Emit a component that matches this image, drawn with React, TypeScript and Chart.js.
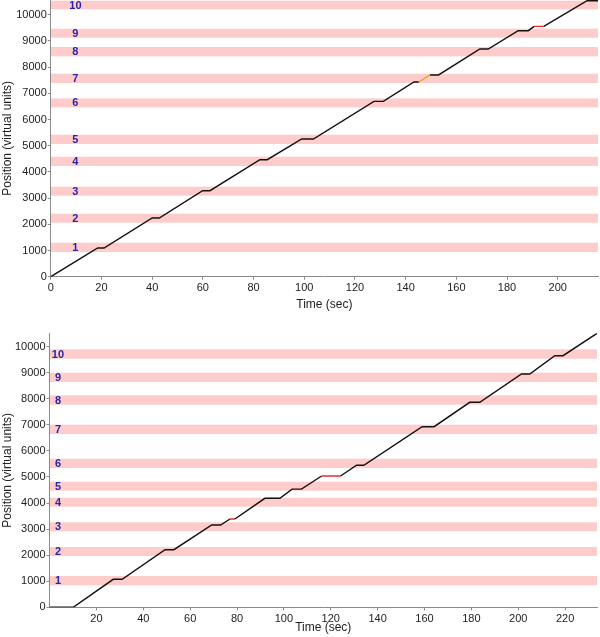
import { useEffect, useRef } from 'react';
import { Chart, registerables } from 'chart.js';

Chart.register(...registerables);

// ---------- data ----------
const bandLabels = ['1', '2', '3', '4', '5', '6', '7', '8', '9', '10'];
const positionTicks = [0, 1000, 2000, 3000, 4000, 5000, 6000, 7000, 8000, 9000, 10000];
const topTimeTicks = [0, 20, 40, 60, 80, 100, 120, 140, 160, 180, 200];
const bottomTimeTicks = [20, 40, 60, 80, 100, 120, 140, 160, 180, 200, 220];

// top panel
const topTime = [0, 18.5, 21.0, 40.0, 42.8, 59.9, 62.8, 82.5, 85.4, 99.0, 103.6, 127.5, 131.2, 143.3, 145.2, 149.6, 153.0, 169.3, 172.6, 184.4, 188.4, 190.7, 194.5, 211.6, 215.9];
const topPosition = [0, 1095, 1095, 2240, 2240, 3282, 3282, 4466, 4466, 5256, 5256, 6691, 6691, 7431, 7431, 7700, 7700, 8691, 8691, 9389, 9389, 9553, 9553, 10534, 10534];
const topBandLow = [943, 2061, 3092, 4225, 5065, 6462, 7393, 8408, 9122, 10202];
const topBandHigh = [1298, 2405, 3435, 4580, 5420, 6805, 7748, 8767, 9466, 10534];
const topHighlightStart = [145.2, 190.7];
const topHighlightColor = ['#f7a11e', '#f02828'];
const topLabelTime = 9.7;

// bottom panel
const bottomTime = [0, 10.1, 27.2, 31.0, 49.3, 53.1, 69.2, 73.0, 77.0, 79.1, 91.9, 98.3, 103.5, 107.5, 116.1, 124.2, 131.0, 134.1, 159.0, 164.1, 179.3, 183.6, 201.4, 204.9, 215.6, 219.1, 233.6];
const bottomPosition = [0, 0, 1074, 1074, 2210, 2210, 3158, 3158, 3388, 3388, 4182, 4182, 4535, 4535, 5038, 5038, 5450, 5450, 6930, 6930, 7866, 7866, 8952, 8952, 9655, 9655, 10514];
const bottomBandLow = [844, 1969, 2916, 3860, 4475, 5345, 6650, 7774, 8645, 9540];
const bottomBandHigh = [1201, 2314, 3262, 4206, 4820, 5702, 7007, 8135, 9002, 9900];
const bottomHighlightStart = [77.0, 116.1];
const bottomHighlightColor = ['#f02828', '#f02828'];
const bottomLabelTime = 3.6;

const FONT = 'Liberation Sans';
const AXIS_COLOR = '#8a8a8a';
const TEXT_COLOR = '#222222';

function bandPlugin(low: number[], high: number[], labelX: number) {
  return {
    id: 'bands',
    beforeDraw(chart: any) {
      const { ctx, chartArea, scales } = chart;
      const xs = scales.x;
      const ys = scales.y;
      ctx.save();
      ctx.beginPath();
      ctx.rect(chartArea.left, chartArea.top, chartArea.right - chartArea.left, chartArea.bottom - chartArea.top);
      ctx.clip();
      ctx.fillStyle = '#ffcccc';
      for (let i = 0; i < low.length; i++) {
        const yTop = ys.getPixelForValue(high[i]);
        const yBot = ys.getPixelForValue(low[i]);
        ctx.fillRect(chartArea.left, yTop, chartArea.right - chartArea.left, yBot - yTop);
      }
      ctx.fillStyle = '#2626a8';
      ctx.font = `bold 11px "${FONT}"`;
      ctx.textAlign = 'center';
      ctx.textBaseline = 'middle';
      for (let i = 0; i < low.length; i++) {
        ctx.fillText(bandLabels[i], xs.getPixelForValue(labelX), ys.getPixelForValue((low[i] + high[i]) / 2) + 0.5);
      }
      ctx.restore();
    },
  };
}

interface PanelCfg {
  time: number[];
  pos: number[];
  low: number[];
  high: number[];
  hlStart: number[];
  hlColor: string[];
  labelX: number;
  xTicks: number[];
  xMax: number;
  yMax: number;
  yWidth: number;
  xHeight: number;
  padTop: number;
  padRight: number;
  titleBottom: number;
}

function makeConfig(c: PanelCfg): any {
  const points = c.time.map((t, i) => ({ x: t, y: c.pos[i] }));
  const tickFont = { family: FONT, size: 11 };
  const titleFont = { family: FONT, size: 12 };
  return {
    type: 'line',
    data: {
      datasets: [
        {
          data: points,
          borderColor: '#111111',
          borderWidth: 1.4,
          pointRadius: 0,
          tension: 0,
          segment: {
            borderColor: (ctx: any) => {
              const x0 = ctx.p0.parsed.x;
              for (let i = 0; i < c.hlStart.length; i++) {
                if (Math.abs(x0 - c.hlStart[i]) < 0.01) return c.hlColor[i];
              }
              return '#111111';
            },
          },
        },
      ],
    },
    options: {
      animation: false,
      responsive: false,
      devicePixelRatio: 1,
      layout: { padding: { left: 0, right: c.padRight, top: c.padTop, bottom: 0 } },
      plugins: { legend: { display: false }, tooltip: { enabled: false } },
      scales: {
        x: {
          type: 'linear',
          min: 0,
          max: c.xMax,
          border: { display: true, color: AXIS_COLOR, width: 1 },
          grid: { display: true, drawOnChartArea: false, drawTicks: true, tickLength: 3, color: AXIS_COLOR },
          ticks: {
            autoSkip: false,
            maxRotation: 0,
            padding: 2,
            color: TEXT_COLOR,
            font: tickFont,
            callback: (v: number) => String(v),
          },
          afterBuildTicks: (s: any) => {
            s.ticks = c.xTicks.map((v) => ({ value: v }));
          },
          title: { display: true, text: 'Time (sec)', color: TEXT_COLOR, font: titleFont, padding: { top: 0, bottom: c.titleBottom } },
          afterFit: (s: any) => {
            s.height = c.xHeight;
            s.paddingLeft = 0;
            s.paddingRight = 0;
          },
        },
        y: {
          type: 'linear',
          min: 0,
          max: c.yMax,
          border: { display: true, color: AXIS_COLOR, width: 1 },
          grid: { display: true, drawOnChartArea: false, drawTicks: true, tickLength: 3, color: AXIS_COLOR },
          ticks: {
            autoSkip: false,
            padding: 1,
            color: TEXT_COLOR,
            font: tickFont,
            callback: (v: number) => String(v),
          },
          afterBuildTicks: (s: any) => {
            s.ticks = positionTicks.map((v) => ({ value: v }));
          },
          title: { display: true, text: 'Position (virtual units)', color: TEXT_COLOR, font: titleFont, padding: { top: 0, bottom: 0 } },
          afterFit: (s: any) => {
            s.width = c.yWidth;
            s.paddingTop = 0;
            s.paddingBottom = 0;
          },
        },
      },
    },
    plugins: [bandPlugin(c.low, c.high, c.labelX)],
  };
}

function Panel({ cfg, height, top }: { cfg: PanelCfg; height: number; top: number }) {
  const ref = useRef<HTMLCanvasElement | null>(null);
  useEffect(() => {
    if (!ref.current) return;
    const chart = new Chart(ref.current, makeConfig(cfg));
    return () => chart.destroy();
  }, []);
  return (
    <canvas
      ref={ref}
      width={600}
      height={height}
      style={{ position: 'absolute', left: 0, top, width: 600, height, display: 'block' }}
    />
  );
}

const topCfg: PanelCfg = {
  time: topTime,
  pos: topPosition,
  low: topBandLow,
  high: topBandHigh,
  hlStart: topHighlightStart,
  hlColor: topHighlightColor,
  labelX: topLabelTime,
  xTicks: topTimeTicks,
  xMax: 215.9,
  yMax: 10560,
  yWidth: 50.8,
  xHeight: 316 - 276.7,
  padTop: 0,
  padRight: 2,
  titleBottom: 4,
};

const bottomCfg: PanelCfg = {
  time: bottomTime,
  pos: bottomPosition,
  low: bottomBandLow,
  high: bottomBandHigh,
  hlStart: bottomHighlightStart,
  hlColor: bottomHighlightColor,
  labelX: bottomLabelTime,
  xTicks: bottomTimeTicks,
  xMax: 233.6,
  yMax: 10514,
  yWidth: 49.5,
  xHeight: 637 - 607.3,
  padTop: 333.3 - 316,
  padRight: 3,
  titleBottom: 2,
};

export default function App() {
  return (
    <div style={{ position: 'absolute', left: 0, top: 0, width: 600, height: 637, background: '#ffffff' }}>
      <Panel cfg={topCfg} height={316} top={0} />
      <Panel cfg={bottomCfg} height={321} top={316} />
    </div>
  );
}
